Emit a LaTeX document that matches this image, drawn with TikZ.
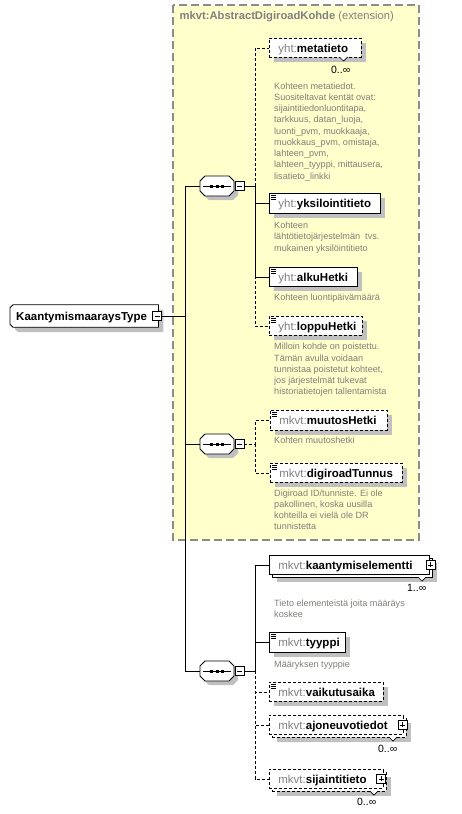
\documentclass[tikz,border=0pt]{standalone}
\usepackage{fontspec}
\setmainfont{Liberation Sans}
\newfontfamily\descfont{Liberation Sans}
\usetikzlibrary{shadows,calc,backgrounds}
\definecolor{ybox}{RGB}{255,255,204}
\definecolor{yborder}{RGB}{140,140,140}
\definecolor{pref}{RGB}{128,128,128}
\definecolor{desctext}{RGB}{128,126,120}
\definecolor{shad}{RGB}{192,192,192}
\newcommand{\elab}[3]{\makebox[#1][l]{\textcolor{pref}{#2}\textbf{#3}}}
\newcommand{\dstrut}{\rule{0pt}{7pt}}
\newcommand{\rtpath}[1]{($(rt.north west)+(3+#1,#1)$) -- ($(rt.north east)+(#1,#1)$) -- ($(rt.south east)+(#1,#1)$) -- ($(rt.south west)+(3+#1,#1)$) -- ($(rt.south west)+(#1,-3+#1)$) -- ($(rt.north west)+(#1,3+#1)$) -- cycle}
\newcommand{\octpath}[1]{++(-17,-5) -- ++(5,-5) -- ++(24,0) -- ++(5,5) -- ++(0,10) -- ++(-5,5) -- ++(-24,0) -- ++(-5,-5) -- cycle}
\tikzset{
  conn/.style={line width=0.8pt},
  optconn/.style={line width=0.8pt, dash pattern=on 3pt off 2pt},
  opt/.style={dash pattern=on 3pt off 2pt},
  ebase/.style={rectangle, draw=black, fill=white, line width=0.8pt, anchor=north west,
    inner xsep=9pt, inner ysep=0pt, minimum height=19pt, text height=10.5pt, text depth=1.5pt,
    font=\fontsize{11.5}{13}\selectfont},
  single/.style={ebase, drop shadow={shadow xshift=5pt, shadow yshift=-5pt, fill=shad, opacity=1}},
  multi/.style={ebase, drop shadow={shadow xshift=8pt, shadow yshift=-8pt, fill=shad, opacity=1},
    copy shadow={shadow xshift=3pt, shadow yshift=-3pt, draw=black, fill=white}},
  multiopt/.style={ebase, opt, drop shadow={shadow xshift=8pt, shadow yshift=-8pt, fill=shad, opacity=1},
    copy shadow={shadow xshift=3pt, shadow yshift=-3pt, draw=black, fill=white, dash pattern=on 3pt off 2pt}},
  seqbox/.style={rectangle, draw=none, minimum width=34pt, minimum height=20pt, inner sep=0pt},
  pmbox/.style={rectangle, draw=black, fill=white, line width=0.7pt, minimum size=9pt, inner sep=0pt},
  minusbox/.style={pmbox, path picture={\draw[line width=0.7pt] ([xshift=2pt]path picture bounding box.west) -- ([xshift=-2pt]path picture bounding box.east);}},
  plusbox/.style={pmbox, path picture={\draw[line width=0.7pt] ([xshift=2pt]path picture bounding box.west) -- ([xshift=-2pt]path picture bounding box.east);
     \draw[line width=0.7pt] ([yshift=-2pt]path picture bounding box.north) -- ([yshift=2pt]path picture bounding box.south);}},
  desc/.style={anchor=north west, inner sep=0pt, align=left, text=desctext, font=\descfont\fontsize{9.1}{11.25}\selectfont},
  mult/.style={anchor=east, inner sep=0pt, font=\fontsize{10.5}{12}\selectfont},
  notch/.style={line width=0.7pt, fill=white},
}
\begin{document}
\begin{tikzpicture}[x=1pt,y=-1pt]
\useasboundingbox (0,0) rectangle (462,814);
% extension area
\draw[fill=ybox, draw=yborder, line width=1.3pt, dash pattern=on 8pt off 4pt] (173,5) rectangle (419,540);
\node[anchor=west, inner sep=0pt, font=\fontsize{11.2}{13}\selectfont] (title) at (179.5,17)
  {\textcolor{pref}{\textbf{mkvt:AbstractDigiroadKohde}} \textcolor{pref}{(extension)}};

% root type
\node[rectangle, anchor=west, inner xsep=6pt, inner ysep=0pt,
  minimum height=22pt, text height=10.5pt, text depth=1.5pt, font=\fontsize{11.5}{13}\selectfont]
  (rt) at (10,316) {\makebox[136pt][l]{\textbf{KaantymismaaraysType}}};
\begin{scope}[on background layer]
  \fill[shad] \rtpath{5};
  \draw[fill=white, line width=0.8pt] \rtpath{0};
\end{scope}
\node[minusbox] (rtm) at (157,316) {};

% sequences
\node[seqbox] (s1) at (217,186) {};
\node[seqbox] (s2) at (217,444) {};
\node[seqbox] (s3) at (217,671) {};
\foreach \s in {s1,s2,s3}{
  \fill[shad] ([shift={(4pt,-4pt)}]\s.center) \octpath{};
  \draw[fill=white, line width=0.8pt] (\s.center) \octpath{};
  \draw[line width=0.8pt] ([xshift=-14pt]\s.center) -- ([xshift=14pt]\s.center);
  \fill ([xshift=-7pt,yshift=1.5pt]\s.center) rectangle ++(3,3);
  \fill ([xshift=-1.5pt,yshift=1.5pt]\s.center) rectangle ++(3,3);
  \fill ([xshift=4pt,yshift=1.5pt]\s.center) rectangle ++(3,3);
}
\node[minusbox] (s1m) at (239.5,186) {};
\node[minusbox] (s2m) at (239.5,444) {};
\node[minusbox] (s3m) at (239.5,671) {};

% elements
\node[single, opt] (meta) at (269,38) {\elab{74pt}{yht:}{metatieto}};
\node[single, minimum height=20pt] (yks) at (269,193) {\elab{93pt}{yht:}{yksilointitieto}};
\node[single] (alku) at (269,267) {\elab{70pt}{yht:}{alkuHetki}};
\node[single, opt] (loppu) at (269,316) {\elab{75pt}{yht:}{loppuHetki}};
\node[single, opt, minimum height=20pt] (muutos) at (270,410) {\elab{99pt}{mkvt:}{muutosHetki}};
\node[single, opt] (digi) at (270,463) {\elab{114pt}{mkvt:}{digiroadTunnus}};
\node[multi] (kaan) at (269,555) {\elab{142pt}{mkvt:}{kaantymiselementti}};
\node[single, minimum height=20pt] (tyy) at (269,632) {\elab{58pt}{mkvt:}{tyyppi}};
\node[single, opt] (vaik) at (269,682) {\elab{96pt}{mkvt:}{vaikutusaika}};
\node[multiopt] (ajo) at (269,715) {\elab{116pt}{mkvt:}{ajoneuvotiedot}};
\node[multiopt] (sij) at (269,769) {\elab{96pt}{mkvt:}{sijaintitieto}};

% simple-type icons
\foreach \n in {yks,alku,loppu,muutos,digi,tyy,vaik}{
  \foreach \d in {2,4,6}{
    \draw[line width=0.6pt] ([xshift=2pt,yshift=-\d pt]\n.north west) -- ++(5,0);
  }
}

% plus boxes
\node[plusbox] (kaanp) at ([xshift=1pt]kaan.east) {};
\node[plusbox] (ajop) at ([xshift=-1pt]ajo.east) {};
\node[plusbox] (sijp) at ([xshift=-2.5pt]sij.east) {};

% occurrence notches and labels
\draw[notch] (339.5,57) -- ++(4,4) -- ++(4,-4);
\node[mult] (metam) at (350.5,69.5) {0..∞};
\draw[notch] (418,577) -- ++(4,4) -- ++(4,-4);
\node[mult] (kaanm) at (426.5,588) {1..∞};
\draw[notch] (389,737) -- ++(4,4) -- ++(4,-4);
\node[mult] (ajom) at (397.5,749) {0..∞};
\draw[notch] (370,791) -- ++(4,4) -- ++(4,-4);
\node[mult] (sijm) at (376.5,802) {0..∞};

% descriptions
\node[desc] (dmeta) at (274,82) {\dstrut Kohteen metatiedot.\\Suositeltavat kentät ovat:\\sijaintitiedonluontitapa,\\tarkkuus, datan\_luoja,\\luonti\_pvm, muokkaaja,\\muokkaus\_pvm, omistaja,\\lahteen\_pvm,\\lahteen\_tyyppi, mittausera,\\lisatieto\_linkki};
\node[desc] (dyks) at (274,221.5) {\dstrut Kohteen\\lähtötietojärjestelmän\ \ tvs.\\mukainen yksilöintitieto};
\node[desc] (dalku) at (274,293) {\dstrut Kohteen luontipäivämäärä};
\node[desc] (dloppu) at (274,342.7) {\dstrut Milloin kohde on poistettu.\\Tämän avulla voidaan\\tunnistaa poistetut kohteet,\\jos järjestelmät tukevat\\historiatietojen tallentamista};
\node[desc] (dmuutos) at (274,436) {\dstrut Kohten muutoshetki};
\node[desc] (ddigi) at (274,489) {\dstrut Digiroad ID/tunniste. Ei ole\\pakollinen, koska uusilla\\kohteilla ei vielä ole DR\\tunnistetta};
\node[desc] (dkaan) at (274,599) {\dstrut Tieto elementeistä joita määräys\\koskee};
\node[desc] (dtyy) at (274,660) {\dstrut Määryksen tyyppie};

% connectors
\coordinate (tr) at (185,0);
\coordinate (bus) at (255,0);
\draw[conn] (rtm.east) -- (rtm.east -| tr);
\draw[conn] (s1.west) -- (s1.west -| tr) -- (s3.west -| tr) -- (s3.west);
\draw[conn] (s2.west) -- (s2.west -| tr);

\draw[optconn] (s1m.east -| bus) |- (meta.west);
\draw[optconn] (s1m.east -| bus) |- (loppu.west);
\draw[conn] (s1m.east) -- (s1m.east -| bus) |- (yks.west);
\draw[conn] (s1m.east -| bus) |- (alku.west);

\draw[optconn] (s2m.east) -- (s2m.east -| bus) |- (muutos.west);
\draw[optconn] (s2m.east -| bus) |- (digi.west);

\draw[optconn] (s3m.east -| bus) |- (vaik.west);
\draw[optconn] (s3m.east -| bus) |- (ajo.west);
\draw[optconn] (s3m.east -| bus) |- (sij.west);
\draw[conn] (s3m.east) -- (s3m.east -| bus) |- (kaan.west);
\draw[conn] (s3m.east -| bus) |- (tyy.west);
\end{tikzpicture}
\end{document}
